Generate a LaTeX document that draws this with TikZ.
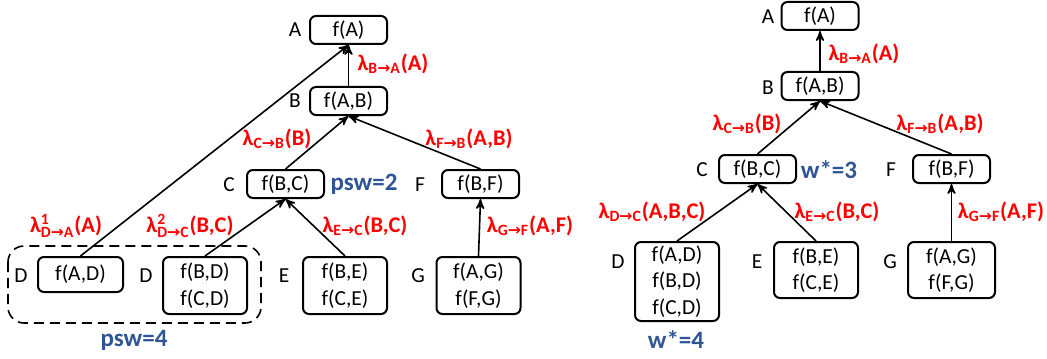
\documentclass[tikz,border=0pt]{standalone}
\usepackage{fontspec}
\setmainfont{Carlito}
\newfontfamily\arrowfont{DejaVu Sans}
\usepackage{amsmath}
\usepackage{xcolor}
\usetikzlibrary{arrows}
\definecolor{msgred}{RGB}{255,0,0}
\definecolor{wblue}{RGB}{47,85,151}
\newcommand{\msgto}{{\arrowfont →}}

\begin{document}
\begin{tikzpicture}[x=0.5pt,y=-0.5pt,font=\fontsize{10.7}{13.3}\selectfont,
    fbox/.style={draw,rounded corners=3pt,line width=1pt,inner sep=0pt,align=center,minimum width=38.5pt,minimum height=14pt},
    tall/.style={minimum width=42pt,minimum height=28.5pt},
    msg/.style={text=msgred,font=\fontsize{11.2}{13}\selectfont\bfseries},
    wlab/.style={text=wblue,font=\fontsize{12.5}{14}\selectfont\bfseries},
    edge/.style={->,>=stealth',line width=0.8pt}]
        \useasboundingbox (0,0) rectangle (1047,358);

        % left tree
        \node [fbox] (A) at (348.5, 30) {f(A)};
        \node [fbox] (B) at (348.5, 101) {f(A,B)};
        \node [fbox] (C) at (285.5, 184) {f(B,C)};
        \node [fbox] (F) at (480.5, 184) {f(B,F)};
        \node [fbox,minimum width=42.5pt,minimum height=17.5pt] (D1) at (80.5, 274.5) {f(A,D)};
        \node [fbox,tall] (D2) at (205, 285.5) {f(B,D)\\f(C,D)};
        \node [fbox,tall] (E) at (345, 285.5) {f(B,E)\\f(C,E)};
        \node [fbox,tall] (G) at (478.5, 285.5) {f(A,G)\\f(F,G)};

        \node (nA) at (295, 30) {A};
        \node (nB) at (295, 101) {B};
        \node (nC) at (229, 185) {C};
        \node (nF) at (420, 185) {F};
        \node (nD1) at (21, 276) {D};
        \node (nD2) at (146, 276) {D};
        \node (nE) at (284, 276) {E};
        \node (nG) at (418, 276) {G};

        \draw[edge] (B.north) to (A.south);
        \draw[edge] (D1.north) to (A.south);
        \draw[edge] (C.north) to (B.south);
        \draw[edge] (F.north) to (B.south);
        \draw[edge] (D2.north) to (C.south);
        \draw[edge] (E.north) to (C.south);
        \draw[edge] (G.north) to (F.south);

        \draw[dashed,line width=0.8pt,dash pattern=on 5pt off 3pt,rounded corners=8pt] (8, 246) rectangle (261, 323);

        \node [msg] (mBA) at (393, 64) {λ$_{\text{B\msgto A}}$(A)};
        \node [msg] (mCB) at (277, 139) {λ$_{\text{C\msgto B}}$(B)};
        \node [msg] (mFB) at (469, 139) {λ$_{\text{F\msgto B}}$(A,B)};
        \node [msg] (mDA) at (66, 226) {λ$^{\text{1}}_{\text{D\msgto A}}$(A)};
        \node [msg] (mDC) at (190, 226) {λ$^{\text{2}}_{\text{D\msgto C}}$(B,C)};
        \node [msg] (mEC) at (365, 226) {λ$_{\text{E\msgto C}}$(B,C)};
        \node [msg] (mGF) at (530, 226) {λ$_{\text{G\msgto F}}$(A,F)};
        \node [wlab] (psw2) at (364, 184) {psw=2};
        \node [wlab] (psw4) at (134, 340) {psw=4};

        % right tree
        \node [fbox] (Ar) at (820, 16) {f(A)};
        \node [fbox] (Br) at (820, 86) {f(A,B)};
        \node [fbox] (Cr) at (757.5, 169) {f(B,C)};
        \node [fbox] (Fr) at (951.5, 169) {f(B,F)};
        \node [fbox,minimum width=42pt,minimum height=39.5pt] (Dr) at (677, 281.5) {f(A,D)\\f(B,D)\\f(C,D)};
        \node [fbox,minimum width=42pt,minimum height=28pt] (Er) at (816, 270) {f(B,E)\\f(C,E)};
        \node [fbox,minimum width=43.5pt,minimum height=28pt] (Gr) at (951.5, 270) {f(A,G)\\f(F,G)};

        \node (nAr) at (768, 17) {A};
        \node (nBr) at (768, 88) {B};
        \node (nCr) at (702, 170) {C};
        \node (nFr) at (891, 170) {F};
        \node (nDr) at (618, 262) {D};
        \node (nEr) at (757, 262) {E};
        \node (nGr) at (890, 262) {G};

        \draw[edge] (Br.north) to (Ar.south);
        \draw[edge] (Cr.north) to (Br.south);
        \draw[edge] (Fr.north) to (Br.south);
        \draw[edge] (Dr.north) to (Cr.south);
        \draw[edge] (Er.north) to (Cr.south);
        \draw[edge] (Gr.north) to (Fr.south);

        \node [msg] (mBAr) at (864, 54) {λ$_{\text{B\msgto A}}$(A)};
        \node [msg] (mCBr) at (747, 124) {λ$_{\text{C\msgto B}}$(B)};
        \node [msg] (mFBr) at (940, 124) {λ$_{\text{F\msgto B}}$(A,B)};
        \node [msg] (mDCr) at (652, 212) {λ$_{\text{D\msgto C}}$(A,B,C)};
        \node [msg] (mECr) at (837, 212) {λ$_{\text{E\msgto C}}$(B,C)};
        \node [msg] (mGFr) at (1001, 212) {λ$_{\text{G\msgto F}}$(A,F)};
        \node [wlab] (w3) at (829, 170) {w*=3};
        \node [wlab] (w4) at (676, 340) {w*=4};
\end{tikzpicture}
\end{document}
